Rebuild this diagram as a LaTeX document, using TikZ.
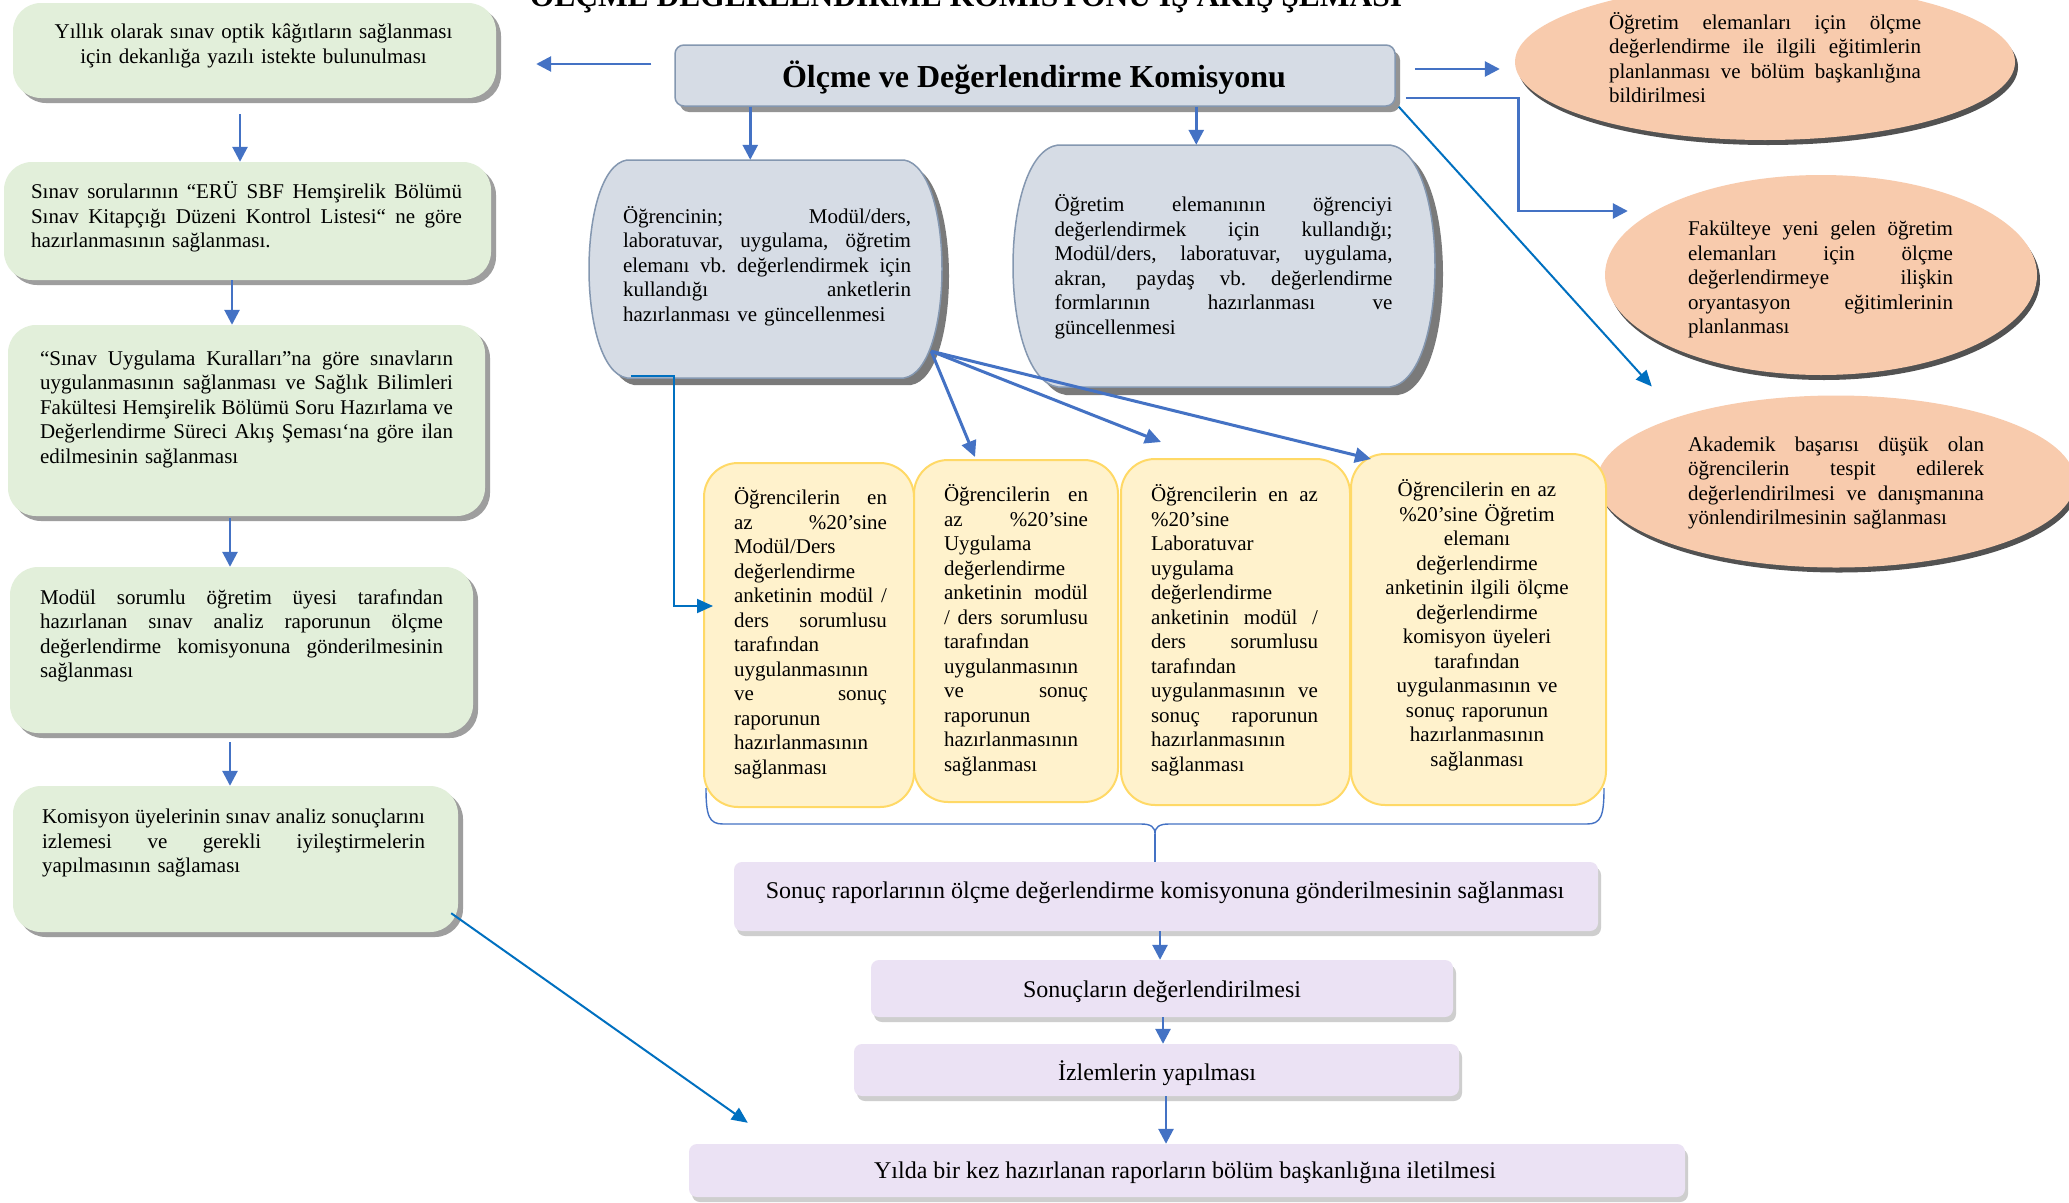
\documentclass[tikz,border=0pt]{standalone}
\usepackage{fontspec}
\setmainfont{Liberation Serif}
\usetikzlibrary{arrows.meta,calc,shapes.geometric,shadows}

\definecolor{grnfill}{HTML}{E2EFDA}
\definecolor{bluegray}{HTML}{D6DCE5}
\definecolor{bgedge}{HTML}{8497B0}
\definecolor{yelfill}{HTML}{FFF2CC}
\definecolor{yeledge}{HTML}{FFD966}
\definecolor{orgfill}{HTML}{F8CBAD}
\definecolor{lilac}{HTML}{EBE2F4}
\definecolor{arrblue}{HTML}{4472C4}
\definecolor{arrdark}{HTML}{0070C0}

% body text, struts for the first and last line of a block
\newcommand{\bodyfont}{\fontsize{21}{24.5}\selectfont}
\newcommand{\tstr}{\rule{0pt}{19pt}}
\newcommand{\bstr}{\rule[-6pt]{0pt}{6pt}}
% one justified line: the word spaces share out the free room evenly
\newcommand{\jwid}{0pt}
\newcommand{\jl}[1]{\leavevmode\hbox to \jwid{\spaceskip=0.25em plus 1fil\relax
  \xspaceskip=0.25em plus 1fil\relax #1}}

% barrel outline: style, x0, y0, x1, y1, side depth
\newcommand{\barrelshape}[6]{%
  \path[#1] (#2+#6,#3) -- (#4-#6,#3)
    .. controls (#4+#6/3,#3+8) and (#4+#6/3,#5-8) .. (#4-#6,#5)
    -- (#2+#6,#5)
    .. controls (#2-#6/3,#5-8) and (#2-#6/3,#3+8) .. cycle;}

\tikzset{
  gbox/.style={rectangle, rounded corners=28pt, fill=grnfill, inner sep=0pt,
    drop shadow={shadow xshift=5pt, shadow yshift=-5pt, fill=black!38, opacity=1}},
  kbox/.style={rectangle, rounded corners=9pt, fill=bluegray, draw=bgedge, line width=1.5pt, inner sep=0pt,
    drop shadow={shadow xshift=5pt, shadow yshift=-6pt, fill=black!42, opacity=1}},
  ybox/.style={rectangle, rounded corners=34pt, fill=yelfill, draw=yeledge, line width=2pt, inner sep=0pt},
  ebox/.style={ellipse, fill=orgfill, inner sep=0pt,
    drop shadow={shadow xshift=3pt, shadow yshift=-5pt, fill=black!68, opacity=1}},
  pbox/.style={rectangle, rounded corners=8pt, fill=lilac, inner sep=0pt,
    drop shadow={shadow xshift=3pt, shadow yshift=-5pt, fill=black!35, opacity=.55}},
  hold/.style={rectangle, inner sep=0pt},
  jtext/.style={font=\bodyfont, align=left, inner sep=0pt, text width=#1},
  ctext/.style={font=\bodyfont, align=center, inner sep=0pt},
  arr/.style={draw=arrblue, line width=2.7pt, -{Triangle[length=15pt,width=15pt]}},
  fan/.style={draw=arrblue, line width=3pt, -{Triangle[length=16pt,width=15pt]}},
  arrd/.style={draw=arrdark, line width=2pt, -{Triangle[length=16pt,width=14pt]}},
  brace/.style={draw=arrblue, line width=1.4pt},
}

\begin{document}
\begin{tikzpicture}[x=1pt, y=-1pt]
\useasboundingbox (0,0) rectangle (2069,1202);
\fill[white] (0,0) rectangle (2069,1202);

% heading
\node[font=\bfseries\fontsize{31.5}{36}\selectfont, anchor=base, inner sep=0pt] (title) at (966,6)
  {ÖLÇME DEĞERLENDİRME KOMİSYONU İŞ AKIŞ ŞEMASI};

% commission
\node[kbox, minimum width=720pt, minimum height=61pt] (k) at (1035,75.5) {};
\node[font=\bfseries\fontsize{32}{36}\selectfont, anchor=base, inner sep=0pt] (kt) at (1034,87)
  {Ölçme ve Değerlendirme Komisyonu};

% left column
\node[gbox, minimum width=483pt, minimum height=95pt] (g1) at (254.5,50.5) {};
\node[gbox, minimum width=487pt, minimum height=118pt] (g2) at (247.5,221) {};
\node[gbox, minimum width=477pt, minimum height=191pt] (g3) at (246.5,420.5) {};
\node[gbox, minimum width=463pt, minimum height=166pt] (g4) at (241.5,650) {};
\node[gbox, minimum width=445pt, minimum height=146pt] (g5) at (235.5,859) {};

\node[ctext, text width=430pt] (g1t) at (253.5,44.5)
  {\tstr Yıllık olarak sınav optik kâğıtların sağlanması\\ için dekanlığa yazılı istekte bulunulması\bstr};
\def\jwid{431pt}
\node[jtext=431pt] (g2t) at (246.5,216.5)
  {\tstr\jl{Sınav sorularının “ERÜ SBF Hemşirelik Bölümü}\\
   \jl{Sınav Kitapçığı Düzeni Kontrol Listesi“ ne göre}\\
   hazırlanmasının sağlanması.\bstr};
\def\jwid{413pt}
\node[jtext=413pt] (g3t) at (246.5,407.5)
  {\tstr\jl{“Sınav Uygulama Kuralları”na göre sınavların}\\
   \jl{uygulanmasının sağlanması ve Sağlık Bilimleri}\\
   \jl{Fakültesi Hemşirelik Bölümü Soru Hazırlama ve}\\
   \jl{Değerlendirme Süreci Akış Şeması‘na göre ilan}\\
   edilmesinin sağlanması\bstr};
\def\jwid{403pt}
\node[jtext=403pt] (g4t) at (241.5,634.5)
  {\tstr\jl{Modül sorumlu öğretim üyesi tarafından}\\
   \jl{hazırlanan sınav analiz raporunun ölçme}\\
   \jl{değerlendirme komisyonuna gönderilmesinin}\\
   sağlanması\bstr};
\def\jwid{383pt}
\node[jtext=383pt] (g5t) at (233.5,841.5)
  {\tstr\jl{Komisyon üyelerinin sınav analiz sonuçlarını}\\
   \jl{izlemesi ve gerekli iyileştirmelerin}\\
   yapılmasının sağlaması\bstr};

% survey and form boxes
\node[hold, minimum width=353pt, minimum height=218pt] (b1) at (765.5,269) {};
\node[hold, minimum width=422pt, minimum height=242pt] (b2) at (1224,266) {};
\barrelshape{fill=black!52}{596}{167}{949}{385}{38}
\barrelshape{fill=bluegray, draw=bgedge, line width=1.5pt}{589}{160}{942}{378}{38}
\barrelshape{fill=black!52}{1021}{153}{1443}{395}{45}
\barrelshape{fill=bluegray, draw=bgedge, line width=1.5pt}{1013}{145}{1435}{387}{45}

\def\jwid{288pt}
\node[jtext=288pt] (b1t) at (767,265.5)
  {\tstr\jl{Öğrencinin; Modül/ders,}\\
   \jl{laboratuvar, uygulama, öğretim}\\
   \jl{elemanı vb. değerlendirmek için}\\
   \jl{kullandığı anketlerin}\\
   hazırlanması ve güncellenmesi\bstr};
\def\jwid{338pt}
\node[jtext=338pt] (b2t) at (1223.5,266.5)
  {\tstr\jl{Öğretim elemanının öğrenciyi}\\
   \jl{değerlendirmek için kullandığı;}\\
   \jl{Modül/ders, laboratuvar, uygulama,}\\
   \jl{akran, paydaş vb. değerlendirme}\\
   \jl{formlarının hazırlanması ve}\\
   güncellenmesi\bstr};

% planning ellipses
\node[ebox, minimum width=500pt, minimum height=156pt] (e1) at (1765,62) {};
\node[ebox, minimum width=432pt, minimum height=200pt] (e2) at (1821,275) {};
\node[ebox, minimum width=478pt, minimum height=172pt] (e3) at (1836,481.5) {};

\def\jwid{312pt}
\node[jtext=312pt] (e1t) at (1765,59.5)
  {\tstr\jl{Öğretim elemanları için ölçme}\\
   \jl{değerlendirme ile ilgili eğitimlerin}\\
   \jl{planlanması ve bölüm başkanlığına}\\
   bildirilmesi\bstr};
\def\jwid{265pt}
\node[jtext=265pt] (e2t) at (1820.5,278)
  {\tstr\jl{Fakülteye yeni gelen öğretim}\\
   \jl{elemanları için ölçme}\\
   \jl{değerlendirmeye ilişkin}\\
   \jl{oryantasyon eğitimlerinin}\\
   planlanması\bstr};
\def\jwid{296pt}
\node[jtext=296pt] (e3t) at (1836,481.5)
  {\tstr\jl{Akademik başarısı düşük olan}\\
   \jl{öğrencilerin tespit edilerek}\\
   \jl{değerlendirilmesi ve danışmanına}\\
   yönlendirilmesinin sağlanması\bstr};

% survey application boxes
\node[ybox, minimum width=210pt, minimum height=344pt] (y1) at (809,635) {};
\node[ybox, minimum width=204pt, minimum height=342pt] (y2) at (1016,631) {};
\node[ybox, minimum width=229pt, minimum height=346pt] (y3) at (1235.5,632) {};
\node[ybox, minimum width=255pt, minimum height=351pt] (y4) at (1478.5,629.5) {};

\def\jwid{153pt}
\node[jtext=153pt] (y1t) at (810.5,633)
  {\tstr\jl{Öğrencilerin en}\\ \jl{az \%20’sine}\\ Modül/Ders\\ değerlendirme\\
   \jl{anketinin modül /}\\ \jl{ders sorumlusu}\\ tarafından\\ uygulanmasının\\
   \jl{ve sonuç}\\ raporunun\\ hazırlanmasının\\ sağlanması\bstr};
\def\jwid{144pt}
\node[jtext=144pt] (y2t) at (1016,630)
  {\tstr\jl{Öğrencilerin en}\\ \jl{az \%20’sine}\\ Uygulama\\ değerlendirme\\
   \jl{anketinin modül}\\ \jl{/ ders sorumlusu}\\ tarafından\\ uygulanmasının\\
   \jl{ve sonuç}\\ raporunun\\ hazırlanmasının\\ sağlanması\bstr};
\def\jwid{167pt}
\node[jtext=167pt] (y3t) at (1234.5,630)
  {\tstr\jl{Öğrencilerin en az}\\ \%20’sine\\ Laboratuvar\\ uygulama\\ değerlendirme\\
   \jl{anketinin modül /}\\ \jl{ders sorumlusu}\\ tarafından\\ \jl{uygulanmasının ve}\\
   \jl{sonuç raporunun}\\ hazırlanmasının\\ sağlanması\bstr};
\node[ctext, text width=250pt] (y4t) at (1477,625)
  {\tstr Öğrencilerin en az\\ \%20’sine Öğretim\\ elemanı\\ değerlendirme\\
   anketinin ilgili ölçme\\ değerlendirme\\ komisyon üyeleri\\ tarafından\\
   uygulanmasının ve\\ sonuç raporunun\\ hazırlanmasının\\ sağlanması\bstr};

% reporting chain
\node[pbox, minimum width=864pt, minimum height=69pt] (p1) at (1166,896.5) {};
\node[pbox, minimum width=582pt, minimum height=57pt] (p2) at (1162,988.5) {};
\node[pbox, minimum width=605pt, minimum height=52pt] (p3) at (1156.5,1070) {};
\node[pbox, minimum width=996pt, minimum height=53pt] (p4) at (1187,1170.5) {};

\node[font=\fontsize{24}{28}\selectfont, anchor=base, inner sep=0pt] (p1t) at (1165,898)
  {Sonuç raporlarının ölçme değerlendirme komisyonuna gönderilmesinin sağlanması};
\node[font=\fontsize{24}{28}\selectfont, anchor=base, inner sep=0pt] (p2t) at (1162,997)
  {Sonuçların değerlendirilmesi};
\node[font=\fontsize{24}{28}\selectfont, anchor=base, inner sep=0pt] (p3t) at (1157,1080)
  {İzlemlerin yapılması};
\node[font=\fontsize{24}{28}\selectfont, anchor=base, inner sep=0pt] (p4t) at (1185,1178)
  {Yılda bir kez hazırlanan raporların bölüm başkanlığına iletilmesi};

% connectors from the commission
\draw[arr] ([xshift=-23pt,yshift=11.5pt]k.west) -- ([xshift=40pt,yshift=-13.5pt]g1.east);
\draw[arr] ([xshift=19pt,yshift=6.5pt]k.east) -- ([xshift=-15pt,yshift=-7pt]e1.west);
\draw[arr] ([xshift=10pt,yshift=-22.5pt]k.east) -- ++(113,0) |- ([xshift=23pt,yshift=64pt]e2.west);
\draw[arrd] ([xshift=3pt]k.south east) -- ([xshift=55pt,yshift=95pt]e3.west);
\draw[arr] ([xshift=76pt]k.south west) -- ([xshift=76pt]k.south west |- b1.north);
\draw[arr] ([xshift=522pt]k.south west) -- ([xshift=522pt]k.south west |- b2.north);

% survey box to its applications
\draw[arrd] ([xshift=42pt,yshift=2pt]b1.south west) -- ++(43,0) |- ([xshift=10pt,yshift=29pt]y1.west);
\draw[fan] ([xshift=-11pt,yshift=27pt]b1.south east) -- ([xshift=-41pt,yshift=2pt]y2.north);
\draw[fan] ([xshift=-11pt,yshift=27pt]b1.south east) -- ([xshift=-74.5pt,yshift=16pt]y3.north);
\draw[fan] ([xshift=-11pt,yshift=27pt]b1.south east) -- ([xshift=21pt,yshift=-6pt]y4.north west);

% left column chain
\draw[arr] ([xshift=-14.5pt,yshift=-16pt]g1.south) -- ([xshift=-14.5pt]g1.south |- g2.north);
\draw[arr] ([xshift=-15.5pt]g2.south) -- ([xshift=-15.5pt]g2.south |- g3.north);
\draw[arr] ([xshift=-16.5pt,yshift=-2pt]g3.south) -- ([xshift=-16.5pt]g3.south |- g4.north);
\draw[arr] ([xshift=-11.5pt,yshift=-9pt]g4.south) -- ([xshift=-11.5pt]g4.south |- g5.north);
\draw[arrd] ([xshift=-7pt,yshift=19pt]g5.south east) -- ([xshift=59pt,yshift=21pt]p4.north west);

% brace gathering the four applications
\coordinate (brL) at ([xshift=3pt,yshift=20pt]y1.south west);
\coordinate (brR) at ([xshift=-3pt,yshift=18pt]y4.south east);
\coordinate (brT) at ($(brL)!0.5!(brR)+(0,46)$);
\draw[brace] (brL) .. controls +(0,28) and +(-14,0) .. ($(brL)+(17,36)$)
  -- ($(brT)+(-14,-10)$) .. controls +(10,0) and +(0,-7) .. (brT)
  .. controls +(0,-7) and +(-10,0) .. ($(brT)+(14,-10)$)
  -- ($(brR)+(-17,36)$) .. controls +(14,0) and +(0,28) .. (brR);
\draw[brace] (brT) -- (brT |- p1.north);

% reporting chain arrows
\draw[arr] ([xshift=-6pt]p1.south) -- ([xshift=-6pt]p1.south |- p2.north);
\draw[arr] ([xshift=1pt]p2.south) -- ([xshift=1pt]p2.south |- p3.north);
\draw[arr] ([xshift=9.5pt]p3.south) -- ([xshift=9.5pt]p3.south |- p4.north);
\end{tikzpicture}
\end{document}
